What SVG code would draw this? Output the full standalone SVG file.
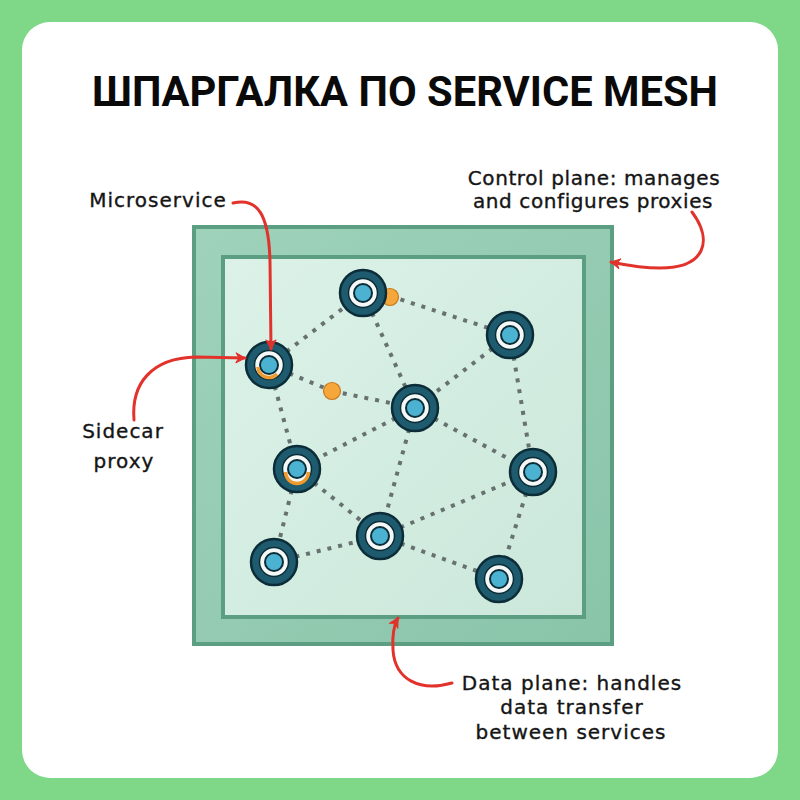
<svg xmlns="http://www.w3.org/2000/svg" width="800" height="800" viewBox="0 0 800 800">
<defs>
<style>
.lbl{font-family:"DejaVu Sans",sans-serif;font-size:20px;fill:#151515;stroke:#151515;stroke-width:0.35;letter-spacing:1px}
.cp{letter-spacing:0.6px}
.dot{fill:none;stroke:#67716f;stroke-width:4;stroke-dasharray:4 7}
.arr{fill:none;stroke:#e2322c;stroke-width:3;stroke-linecap:round}
.rim{fill:#1f5b6e;stroke:#0c2d38;stroke-width:2.5}
.ring{fill:#f4f8f6;stroke:#0c2d38;stroke-width:1.5}
.core{fill:#4cb2d2;stroke:#0c2d38;stroke-width:2}
.orng{fill:#f5a73c;stroke:#c97a1c;stroke-width:1.2}
.sc{fill:none;stroke:#ee9a2e;stroke-width:3.5}
</style>
<marker id="ah" viewBox="0 0 12 12" refX="10" refY="6" markerWidth="12" markerHeight="12" markerUnits="userSpaceOnUse" orient="auto">
<path d="M1,1 L10,6 L1,11 L4,6 Z" fill="#e2322c" stroke="#e2322c" stroke-width="1" stroke-linejoin="round"/>
</marker>
<linearGradient id="band" x1="0" y1="0" x2="1" y2="1">
<stop offset="0" stop-color="#9fd2bb"/>
<stop offset="1" stop-color="#89c4a9"/>
</linearGradient>
<linearGradient id="inner" x1="0" y1="0" x2="1" y2="1">
<stop offset="0" stop-color="#dcf2e8"/>
<stop offset="1" stop-color="#cbe7da"/>
</linearGradient>
<g id="node">
<circle r="23" class="rim"/>
<circle r="14.5" class="ring"/>
<circle r="9" class="core"/>
</g>
</defs>
<rect width="800" height="800" fill="#7ed888"/>
<rect x="22" y="22" width="756" height="756" rx="28" fill="#ffffff"/>
<text x="405" y="106" text-anchor="middle" font-family="Roboto, 'Liberation Sans', sans-serif" font-weight="bold" font-size="42" textLength="626" lengthAdjust="spacingAndGlyphs" fill="#0a0a0a">ШПАРГАЛКА ПО SERVICE MESH</text>

<g id="control-plane">
<rect x="194" y="227" width="418" height="417" fill="url(#band)" stroke="#5b9e82" stroke-width="4"/>
</g>
<g id="data-plane">
<rect x="223" y="257" width="361" height="360" fill="url(#inner)" stroke="#5b9e82" stroke-width="4"/>
</g>

<g id="connectors">
<line class="dot" x1="269" y1="365" x2="363" y2="293"/>
<line class="dot" x1="390" y1="296" x2="510" y2="335"/>
<line class="dot" x1="363" y1="293" x2="415" y2="408"/>
<line class="dot" x1="269" y1="365" x2="332" y2="391"/>
<line class="dot" x1="332" y1="391" x2="415" y2="408"/>
<line class="dot" x1="269" y1="365" x2="297" y2="469"/>
<line class="dot" x1="510" y1="335" x2="415" y2="408"/>
<line class="dot" x1="510" y1="335" x2="533" y2="472"/>
<line class="dot" x1="415" y1="408" x2="297" y2="469"/>
<line class="dot" x1="415" y1="408" x2="380" y2="536"/>
<line class="dot" x1="415" y1="408" x2="533" y2="472"/>
<line class="dot" x1="297" y1="469" x2="380" y2="536"/>
<line class="dot" x1="297" y1="469" x2="274" y2="562"/>
<line class="dot" x1="274" y1="562" x2="380" y2="536"/>
<line class="dot" x1="380" y1="536" x2="533" y2="472"/>
<line class="dot" x1="380" y1="536" x2="499" y2="579"/>
<line class="dot" x1="533" y1="472" x2="499" y2="579"/>
</g>

<g id="proxy-dot-top"><circle cx="390" cy="297" r="8.5" class="orng"/></g>
<g id="proxy-dot-mid"><circle cx="332" cy="391" r="8.5" class="orng"/></g>

<g id="svc1"><use href="#node" x="363" y="293"/></g>
<g id="svc2"><use href="#node" x="510" y="335"/></g>
<g id="svc3"><use href="#node" x="269" y="365"/>
<path class="sc" d="M258,367 A11,11 0 0 0 277,374"/></g>
<g id="svc4"><use href="#node" x="415" y="408"/></g>
<g id="svc5"><use href="#node" x="297" y="469"/>
<path class="sc" d="M285.5,472 A11.5,11.5 0 0 0 308.5,472"/></g>
<g id="svc6"><use href="#node" x="533" y="472"/></g>
<g id="svc7"><use href="#node" x="380" y="536"/></g>
<g id="svc8"><use href="#node" x="274" y="562"/></g>
<g id="svc9"><use href="#node" x="499" y="579"/></g>

<g id="annotations">
<path class="arr" d="M233,203 C258,197 269,215 270,262 L271,349" marker-end="url(#ah)"/>
<path class="arr" d="M134,420 C131,384 151,358 196,357 L245,358" marker-end="url(#ah)"/>
<path class="arr" d="M692,212 C713,240 706,268 660,268 C640,268 626,265 611,262" marker-end="url(#ah)"/>
<path class="arr" d="M452,683 C420,692 395,680 393,650 C392,635 394,625 398,618" marker-end="url(#ah)"/>
</g>

<g id="label-microservice"><text class="lbl" x="158" y="207" text-anchor="middle">Microservice</text></g>
<g id="label-sidecar"><text class="lbl" x="123" y="438" text-anchor="middle">Sidecar</text>
<text class="lbl" x="124" y="468" text-anchor="middle">proxy</text></g>
<g id="label-control"><text class="lbl cp" x="594" y="185" text-anchor="middle">Control plane: manages</text>
<text class="lbl cp" x="593" y="208" text-anchor="middle">and configures proxies</text></g>
<g id="label-data"><text class="lbl" x="572" y="690" text-anchor="middle">Data plane: handles</text>
<text class="lbl" x="572" y="714" text-anchor="middle">data transfer</text>
<text class="lbl" x="571" y="739" text-anchor="middle">between services</text></g>
</svg>
